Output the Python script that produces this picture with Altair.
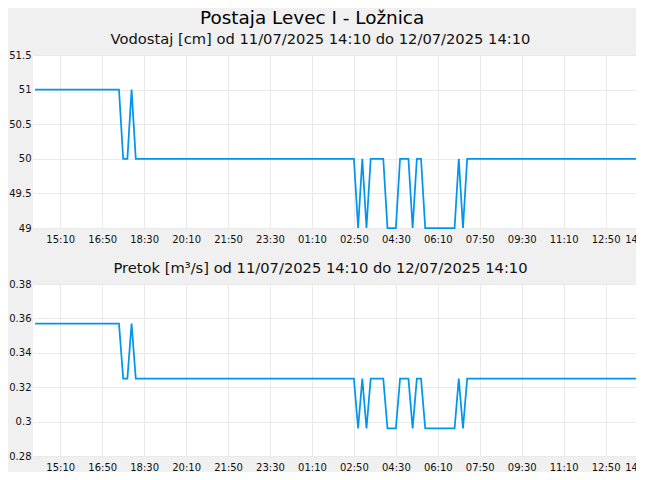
import altair as alt
import pandas as pd

# Change points of the 10-minute series (linear between them)
times = [
    "2025-07-11T14:10:00", "2025-07-11T17:30:00", "2025-07-11T17:40:00",
    "2025-07-11T17:50:00", "2025-07-11T18:00:00", "2025-07-11T18:10:00",
    "2025-07-12T02:50:00", "2025-07-12T03:00:00", "2025-07-12T03:10:00",
    "2025-07-12T03:20:00", "2025-07-12T03:30:00", "2025-07-12T04:00:00",
    "2025-07-12T04:10:00", "2025-07-12T04:30:00", "2025-07-12T04:40:00",
    "2025-07-12T05:00:00", "2025-07-12T05:10:00", "2025-07-12T05:20:00",
    "2025-07-12T05:30:00", "2025-07-12T05:40:00", "2025-07-12T06:50:00",
    "2025-07-12T07:00:00", "2025-07-12T07:10:00", "2025-07-12T07:20:00",
    "2025-07-12T14:10:00",
]
vodostaj = [51, 51, 50, 50, 51, 50,
            50, 49, 50, 49, 50, 50,
            49, 49, 50, 50, 49, 50,
            50, 49, 49, 50, 49, 50,
            50]
pretok = [0.357, 0.357, 0.325, 0.325, 0.357, 0.325,
          0.325, 0.296, 0.325, 0.296, 0.325, 0.325,
          0.296, 0.296, 0.325, 0.325, 0.296, 0.325,
          0.325, 0.296, 0.296, 0.325, 0.296, 0.325,
          0.325]

tick_times = [(11, 15, 10), (11, 16, 50), (11, 18, 30), (11, 20, 10), (11, 21, 50),
              (11, 23, 30), (12, 1, 10), (12, 2, 50), (12, 4, 30), (12, 6, 10),
              (12, 7, 50), (12, 9, 30), (12, 11, 10), (12, 12, 50), (12, 14, 10)]

title_main = "Postaja Levec I - Ložnica"
title_top = "Vodostaj [cm] od 11/07/2025 14:10 do 12/07/2025 14:10"
title_bottom = "Pretok [m³/s] od 11/07/2025 14:10 do 12/07/2025 14:10"

df = pd.DataFrame({"t": times, "v": vodostaj, "q": pretok})

FONT = "DejaVu Sans"
LINE = "#0096ef"

x_values = [alt.DateTime(year=2025, month=7, date=d, hours=h, minutes=m) for d, h, m in tick_times]
x_domain = [alt.DateTime(year=2025, month=7, date=11, hours=14, minutes=5),
            alt.DateTime(year=2025, month=7, date=12, hours=14, minutes=12)]

x_enc = alt.X("t:T", scale=alt.Scale(domain=x_domain),
              axis=alt.Axis(values=x_values, format="%H:%M", title=None,
                            labelAngle=0, labelOverlap=False, labelFlush=False))


def panel(field, ydom, yvals, title, h):
    return alt.Chart(df).mark_line(color=LINE, strokeWidth=1.75, interpolate="linear").encode(
        x=x_enc,
        y=alt.Y(f"{field}:Q", scale=alt.Scale(domain=ydom, nice=False, zero=False),
                axis=alt.Axis(values=yvals, title=None, format="~g")),
    ).properties(
        width=607, height=h,
        title=alt.TitleParams(title, fontSize=14.7, font=FONT, fontWeight="normal",
                              offset=3, color="#111", anchor="middle", dx=-16),
    )


top = panel("v", [49, 51.5], [49, 49.5, 50, 50.5, 51, 51.5], title_top, 173)
bottom = panel("q", [0.28, 0.38], [0.28, 0.3, 0.32, 0.34, 0.36, 0.38], title_bottom, 172)

chart = alt.vconcat(top, bottom, spacing=17).properties(
    title=alt.TitleParams(title_main, fontSize=18.4, font=FONT, fontWeight="normal",
                          offset=5, color="#000", anchor="middle", dx=-19),
    background="#f0f0f0",
    padding={"left": 0, "top": 0, "right": -18, "bottom": 0},
).configure_view(
    fill="white", stroke=None
).configure_axis(
    labelFont=FONT, labelFontSize=10, labelColor="#111",
    gridColor="#eaeaea", gridWidth=1, domain=False, ticks=False, tickSize=0,
).configure_axisX(
    labelPadding=6,
).configure_axisY(
    labelPadding=2,
)

chart.save("out.html", embed_options={"renderer": "svg", "actions": False})
